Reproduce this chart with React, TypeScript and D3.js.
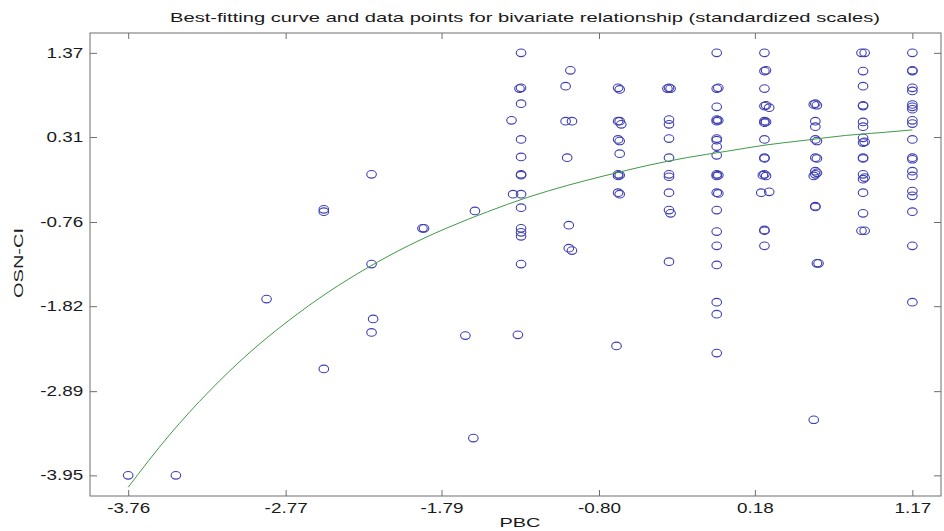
import React, { useEffect, useRef } from "react";
import * as d3 from "d3";

// axis tick labels (as printed on the chart)
const pbcTicks = [-3.76, -2.77, -1.79, -0.8, 0.18, 1.17];
const osnTicks = [1.37, 0.31, -0.76, -1.82, -2.89, -3.95];

const pbc = [
  -3.76, -3.46, -2.89, -2.53, -2.53, -2.53, -2.23, -2.23, -2.22, -2.23,
  -1.91, -1.9, -1.64, -1.59, -1.58,
  -1.29, -1.29, -1.3, -1.29, -1.35, -1.29, -1.29, -1.29, -1.29, -1.34, -1.29, -1.29, -1.29, -1.29, -1.29, -1.29, -1.31,
  -0.98, -1.01, -1.01, -0.97, -1.0, -0.99, -0.99, -0.97,
  -0.68, -0.67, -0.68, -0.67, -0.66, -0.68, -0.67, -0.67, -0.68, -0.68, -0.67, -0.68, -0.67, -0.69,
  -0.36, -0.37, -0.35, -0.36, -0.36, -0.36, -0.36, -0.36, -0.36, -0.36, -0.36, -0.35, -0.36,
  -0.06, -0.06, -0.05, -0.06, -0.06, -0.05, -0.06, -0.06, -0.06, -0.06, -0.06, -0.06, -0.05, -0.06, -0.06, -0.05, -0.06, -0.06, -0.06, -0.06, -0.06, -0.06, -0.06,
  0.24, 0.24, 0.25, 0.24, 0.24, 0.25, 0.27, 0.24, 0.25, 0.24, 0.24, 0.24, 0.24, 0.24, 0.25, 0.23, 0.22, 0.27, 0.24, 0.24, 0.24,
  0.55, 0.56, 0.57, 0.56, 0.56, 0.56, 0.57, 0.56, 0.57, 0.56, 0.56, 0.55, 0.57, 0.56, 0.56, 0.58, 0.57, 0.55,
  0.85, 0.87, 0.86, 0.86, 0.86, 0.86, 0.86, 0.86, 0.86, 0.86, 0.87, 0.86, 0.86, 0.86, 0.86, 0.87, 0.86, 0.86, 0.85, 0.87,
  1.17, 1.17, 1.17, 1.17, 1.17, 1.17, 1.17, 1.17, 1.17, 1.17, 1.17, 1.17, 1.17, 1.17, 1.17, 1.17, 1.17, 1.17, 1.17, 1.17,
];
const osn = [
  -3.95, -3.95, -1.73, -0.6, -0.63, -2.61, -0.16, -1.29, -1.98, -2.15,
  -0.84, -0.84, -2.19, -3.48, -0.62,
  1.37, 0.93, 0.92, 0.73, 0.52, 0.28, 0.06, -0.16, -0.17, -0.41, -0.41, -0.58, -0.84, -0.89, -0.94, -1.29, -2.18,
  1.15, 0.95, 0.51, 0.51, 0.05, -0.8, -1.09, -1.12,
  0.93, 0.91, 0.51, 0.51, 0.47, 0.28, 0.26, 0.1, -0.16, -0.18, -0.17, -0.39, -0.41, -2.32,
  0.93, 0.92, 0.92, 0.53, 0.47, 0.29, 0.05, -0.16, -0.19, -0.39, -0.61, -0.65, -1.26,
  1.37, 0.92, 0.93, 0.69, 0.53, 0.52, 0.51, 0.29, 0.27, 0.19, 0.08, -0.16, -0.17, -0.18, -0.39, -0.4, -0.61, -0.88, -1.06, -1.3, -1.77, -1.92, -2.41,
  1.37, 1.14, 1.15, 0.92, 0.7, 0.71, 0.68, 0.51, 0.5, 0.49, 0.28, 0.05, 0.04, -0.16, -0.18, -0.17, -0.39, -0.38, -0.86, -0.87, -1.06,
  0.72, 0.73, 0.71, 0.51, 0.44, 0.28, 0.26, 0.05, 0.04, -0.12, -0.16, -0.18, -0.14, -0.56, -0.57, -1.28, -1.28, -3.25,
  1.37, 1.37, 1.14, 0.95, 0.7, 0.71, 0.5, 0.44, 0.3, 0.24, 0.25, 0.05, 0.04, -0.16, -0.22, -0.2, -0.39, -0.65, -0.87, -0.87,
  1.37, 1.14, 1.15, 0.93, 0.89, 0.72, 0.69, 0.66, 0.52, 0.48, 0.28, 0.03, 0.05, -0.12, -0.18, -0.37, -0.43, -0.63, -1.06, -1.77,
];

// best-fitting curve, sampled along PBC
const fitPbc = [-3.76, -3.5, -3.25, -3.0, -2.75, -2.5, -2.25, -2.0, -1.75, -1.5, -1.25, -1.0, -0.75, -0.5, -0.25, 0, 0.25, 0.5, 0.75, 1.0, 1.17];
const fitOsn = [-4.1, -3.44, -2.89, -2.41, -2.0, -1.64, -1.33, -1.06, -0.83, -0.63, -0.45, -0.3, -0.17, -0.05, 0.05, 0.13, 0.21, 0.27, 0.33, 0.37, 0.4];

const FONT = "Arial, 'Liberation Sans', Helvetica, sans-serif";

const App = () => {
  const ref = useRef<SVGSVGElement>(null);

  useEffect(() => {
    const svg = d3.select(ref.current);
    svg.selectAll("*").remove();

    const left = 90, right = 941, top = 33, bottom = 496;
    const x = d3.scaleLinear().domain([-4.0, 1.35]).range([left, right]);
    const y = d3.scaleLinear().domain([-4.21, 1.62]).range([bottom, top]);
    const stretch = "scale(1.35,1)";

    svg.append("rect").attr("width", 944).attr("height", 531).attr("fill", "white");

    // bottom axis with labels
    const bx = svg
      .append("g")
      .attr("transform", `translate(0,${bottom})`)
      .call(
        d3.axisBottom(x).tickValues(pbcTicks).tickSize(-6).tickSizeOuter(0).tickPadding(7)
          .tickFormat((d) => (+d).toFixed(2))
      );
    // left axis with labels
    const ly = svg
      .append("g")
      .attr("transform", `translate(${left},0)`)
      .call(
        d3.axisLeft(y).tickValues(osnTicks).tickSize(-7).tickSizeOuter(0).tickPadding(5)
          .tickFormat((d) => (+d).toFixed(2))
      );
    // top and right ticks only
    const tx = svg
      .append("g")
      .attr("transform", `translate(0,${top})`)
      .call(d3.axisTop(x).tickValues(pbcTicks).tickSize(-6).tickSizeOuter(0).tickFormat(() => ""));
    const ry = svg
      .append("g")
      .attr("transform", `translate(${right},0)`)
      .call(d3.axisRight(y).tickValues(osnTicks).tickSize(-7).tickSizeOuter(0).tickFormat(() => ""));

    [bx, ly, tx, ry].forEach((g) => {
      g.select(".domain").remove();
      g.selectAll("line").attr("stroke", "#6f6f6f");
      g.selectAll("text")
        .attr("fill", "#1a1a1a")
        .style("font-family", FONT)
        .style("font-size", "14px")
        .attr("transform", stretch);
    });

    // frame
    svg
      .append("rect")
      .attr("x", left)
      .attr("y", top)
      .attr("width", right - left)
      .attr("height", bottom - top)
      .attr("fill", "none")
      .attr("stroke", "#6f6f6f");

    // data points
    svg
      .append("g")
      .selectAll("ellipse")
      .data(pbc.map((v, i) => [v, osn[i]]))
      .enter()
      .append("ellipse")
      .attr("cx", (d) => x(d[0]))
      .attr("cy", (d) => y(d[1]))
      .attr("rx", 4.8)
      .attr("ry", 3.8)
      .attr("fill", "none")
      .attr("stroke", "#3f3fb4")
      .attr("stroke-width", 1.1);

    // fitted curve
    const line = d3
      .line<number>()
      .x((d) => x(d))
      .y((d, i) => y(fitOsn[i]))
      .curve(d3.curveMonotoneX);
    svg
      .append("path")
      .attr("d", line(fitPbc))
      .attr("fill", "none")
      .attr("stroke", "#3f9a46")
      .attr("stroke-width", 1);

    // title
    svg
      .append("text")
      .attr("x", 525)
      .attr("y", 22)
      .attr("text-anchor", "middle")
      .attr("textLength", 710)
      .attr("lengthAdjust", "spacingAndGlyphs")
      .style("font-family", FONT)
      .style("font-size", "13px")
      .attr("fill", "#1a1a1a")
      .text("Best-fitting curve and data points for bivariate relationship (standardized scales)");

    // x label
    svg
      .append("text")
      .attr("x", 520)
      .attr("y", 527)
      .attr("text-anchor", "middle")
      .attr("textLength", 41)
      .attr("lengthAdjust", "spacingAndGlyphs")
      .style("font-family", FONT)
      .style("font-size", "13px")
      .attr("fill", "#1a1a1a")
      .text("PBC");

    // y label
    svg
      .append("text")
      .attr("transform", "translate(23,263) rotate(-90)")
      .attr("text-anchor", "middle")
      .attr("textLength", 70)
      .attr("lengthAdjust", "spacingAndGlyphs")
      .style("font-family", FONT)
      .style("font-size", "13px")
      .attr("fill", "#1a1a1a")
      .text("OSN-CI");
  }, []);

  return (
    <svg
      ref={ref}
      width={944}
      height={531}
      style={{ position: "absolute", left: 0, top: 0 }}
    ></svg>
  );
};

export default App;
